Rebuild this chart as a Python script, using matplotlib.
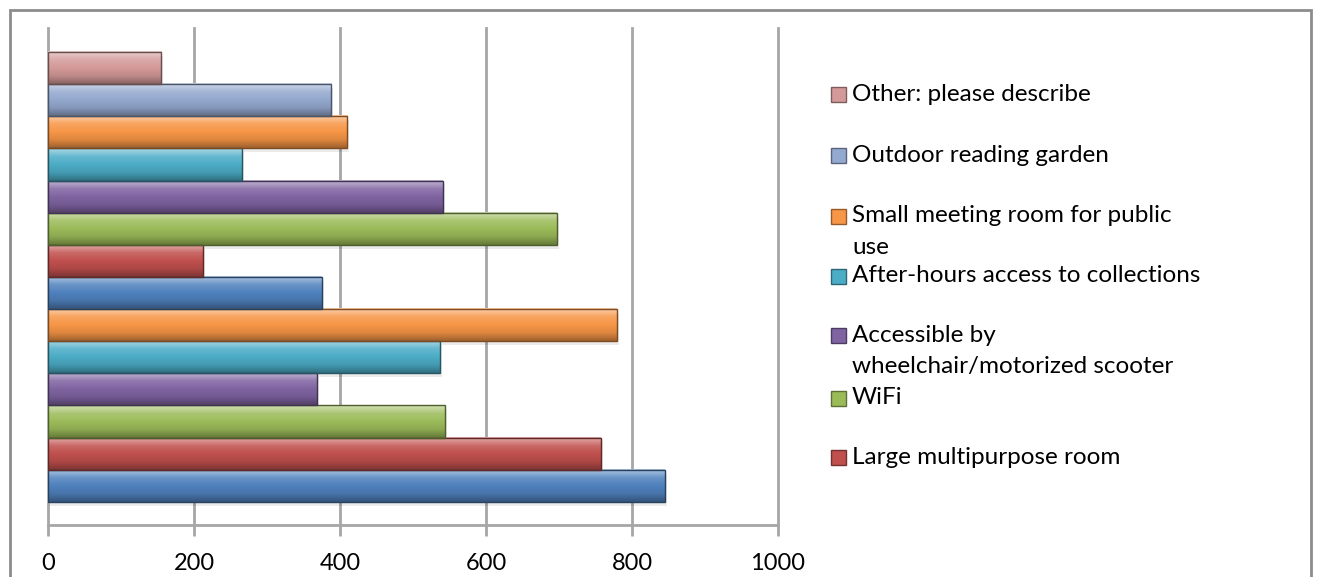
import matplotlib
matplotlib.use("Agg")
import matplotlib.pyplot as plt
import matplotlib.colors as mcolors
from matplotlib.patches import Rectangle
import numpy as np

# bars listed bottom -> top
values = [845, 757, 544, 368, 537, 779, 375, 212, 697, 541, 266, 410, 388, 155]
colors = ["#4F81BD", "#C0504D", "#9BBB59", "#8064A2", "#4BACC6", "#F79646",
          "#4F81BD", "#C0504D", "#9BBB59", "#8064A2", "#4BACC6", "#F79646",
          "#94A9CF", "#D49A99"]

legend_labels = ["Other: please describe", "Outdoor reading garden",
                 "Small meeting room for public\nuse",
                 "After-hours access to collections",
                 "Accessible by\nwheelchair/motorized scooter",
                 "WiFi", "Large multipurpose room"]
legend_colors = ["#D49A99", "#94A9CF", "#F79646", "#4BACC6", "#8064A2", "#9BBB59", "#C0504D"]

xticks = [0, 200, 400, 600, 800, 1000]

FONT = "Lato"


def shade(c, f):
    r = np.array(mcolors.to_rgb(c))
    if f > 0:
        return r + (1 - r) * f
    return r * (1 + f)


fig = plt.figure(figsize=(13.2, 5.77), dpi=100)
fig.patch.set_facecolor("white")

# outer chart border
fig.add_artist(Rectangle((10 / 1320, -0.05), 1301 / 1320, 1.05 - 10 / 577,
                         transform=fig.transFigure, fill=False,
                         edgecolor="#8c8c8c", linewidth=2))

ax = fig.add_axes([48 / 1320, 1 - 525 / 577, 730 / 1320, 497 / 577])

ypos = np.arange(len(values))
bars = ax.barh(ypos, values, height=1.0, color=colors, edgecolor="none", zorder=3)

# gradient / bevel look for each bar
for b, c in zip(bars, colors):
    x0, y0, w, h = b.get_x(), b.get_y(), b.get_width(), b.get_height()
    cmap = mcolors.LinearSegmentedColormap.from_list(
        "g", [shade(c, -0.35), shade(c, -0.1), shade(c, 0.0), shade(c, 0.15), shade(c, 0.55)])
    grad = np.linspace(0, 1, 64).reshape(-1, 1)
    ax.imshow(grad, cmap=cmap, extent=(x0, x0 + w, y0, y0 + h), origin="lower",
              aspect="auto", zorder=3.5, interpolation="bilinear")
    ax.add_patch(Rectangle((x0, y0), w, h, fill=False,
                           edgecolor=shade(c, -0.5), linewidth=1, zorder=4))
    # soft shadow
    ax.add_patch(Rectangle((x0 + 3, y0 - 0.12), w, h, color="#000000", alpha=0.08,
                           linewidth=0, zorder=2.9))

ax.set_xlim(0, 1000)
ax.set_ylim(-0.5 - 0.72, 13.5 + 0.75)
ax.set_xticks(xticks)
ax.set_xticklabels([str(t) for t in xticks], fontsize=17, family=FONT)
ax.set_yticks([])
ax.grid(axis="x", color="#a6a6a6", linewidth=2, zorder=1)
for gl in ax.get_xgridlines():
    gl.set_clip_on(False)
for s in ["top", "right", "left"]:
    ax.spines[s].set_visible(False)
ax.spines["bottom"].set_color("#a6a6a6")
ax.spines["bottom"].set_linewidth(2)
ax.tick_params(axis="x", length=8, width=2, color="#a6a6a6", pad=12)

# legend (manual placement, like the truncated Excel legend)
leg_y = [95, 156, 216, 276, 335, 398, 457]
for lab, c, yy in zip(legend_labels, legend_colors, leg_y):
    fy = 1 - yy / 577
    fig.add_artist(Rectangle((831 / 1320, fy - 7.5 / 577), 15 / 1320, 15 / 577,
                             transform=fig.transFigure, facecolor=c,
                             edgecolor=shade(c, -0.4), linewidth=1))
    lines = lab.split("\n")
    for i, ln in enumerate(lines):
        fig.text(852 / 1320, fy - i * 32 / 577, ln, fontsize=17.5, family=FONT,
                 va="center", ha="left", color="black")

fig.savefig("out.png", dpi=100, facecolor="white")
